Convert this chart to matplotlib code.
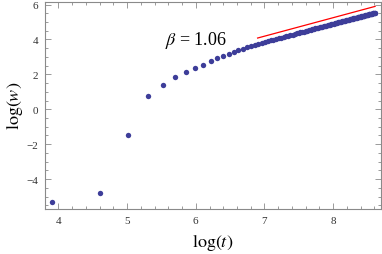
import matplotlib
matplotlib.use("Agg")
import matplotlib.pyplot as plt
import numpy as np
from matplotlib.ticker import MultipleLocator

plt.rcParams['font.family'] = ['Liberation Serif', 'DejaVu Serif']
plt.rcParams['mathtext.fontset'] = 'stix'

# t = 50, 100, ..., 5500 (step 50)
t_values = [50, 100, 150, 200, 250, 300, 350, 400, 450, 500,
            550, 600, 650, 700, 750, 800, 850, 900, 950, 1000,
            1050, 1100, 1150, 1200, 1250, 1300, 1350, 1400, 1450, 1500,
            1550, 1600, 1650, 1700, 1750, 1800, 1850, 1900, 1950, 2000,
            2050, 2100, 2150, 2200, 2250, 2300, 2350, 2400, 2450, 2500,
            2550, 2600, 2650, 2700, 2750, 2800, 2850, 2900, 2950, 3000,
            3050, 3100, 3150, 3200, 3250, 3300, 3350, 3400, 3450, 3500,
            3550, 3600, 3650, 3700, 3750, 3800, 3850, 3900, 3950, 4000,
            4050, 4100, 4150, 4200, 4250, 4300, 4350, 4400, 4450, 4500,
            4550, 4600, 4650, 4700, 4750, 4800, 4850, 4900, 4950, 5000,
            5050, 5100, 5150, 5200, 5250, 5300, 5350, 5400, 5450, 5500]

# log(w)
logw_values = [-5.34, -4.77, -1.46, 0.78, 1.40, 1.87, 2.16, 2.39, 2.56, 2.78,
               2.93, 3.06, 3.18, 3.29, 3.38, 3.47, 3.55, 3.62, 3.69, 3.75,
               3.80, 3.85, 3.90, 3.94, 3.99, 4.03, 4.07, 4.11, 4.14, 4.18,
               4.21, 4.25, 4.28, 4.31, 4.34, 4.37, 4.40, 4.43, 4.45, 4.48,
               4.51, 4.53, 4.56, 4.58, 4.60, 4.63, 4.65, 4.67, 4.69, 4.71,
               4.73, 4.75, 4.77, 4.79, 4.81, 4.83, 4.85, 4.87, 4.89, 4.90,
               4.92, 4.94, 4.95, 4.97, 4.99, 5.00, 5.02, 5.03, 5.05, 5.06,
               5.08, 5.09, 5.11, 5.12, 5.13, 5.15, 5.16, 5.17, 5.19, 5.20,
               5.21, 5.23, 5.24, 5.25, 5.26, 5.28, 5.29, 5.30, 5.31, 5.32,
               5.33, 5.35, 5.36, 5.37, 5.38, 5.39, 5.40, 5.41, 5.42, 5.43,
               5.44, 5.45, 5.46, 5.47, 5.48, 5.49, 5.50, 5.51, 5.52, 5.53]

# fitted power-law slope, drawn offset above the data
beta = 1.06
fit_x = [6.90, 8.61]
fit_y0 = 4.08

x = np.log(t_values)
y = np.array(logw_values)

fig = plt.figure(figsize=(3.82, 2.55), dpi=100)
ax = fig.add_axes([0.118, 0.176, 0.879, 0.814])

ax.scatter(x, y, s=15, color='#3d3d99', linewidths=0, zorder=3)
fx = np.array(fit_x)
ax.plot(fx, fit_y0 + beta * (fx - fit_x[0]), color='red', lw=0.9, zorder=2)

ax.text(5.55, 4.0, r'$\beta$ = %.2f' % beta, fontsize=13, va='center', ha='left')

ax.set_xlim(3.806, 8.694)
ax.set_ylim(-5.72, 6.17)
ax.xaxis.set_major_locator(MultipleLocator(1))
ax.xaxis.set_minor_locator(MultipleLocator(0.2))
ax.yaxis.set_major_locator(MultipleLocator(2))
ax.yaxis.set_minor_locator(MultipleLocator(0.5))

for s in ax.spines.values():
    s.set_color('#8a8a8a')
    s.set_linewidth(0.8)
ax.tick_params(which='both', direction='in', top=True, right=True,
               color='#8a8a8a', labelsize=8, labelcolor='#333333', width=0.6)
ax.tick_params(which='major', length=4, pad=5)
ax.tick_params(which='minor', length=2)

ax.set_xlabel(r'$\mathrm{log}(t)$', fontsize=13, labelpad=5)
ax.set_ylabel(r'$\mathrm{log}(w)$', fontsize=13, labelpad=1)

fig.savefig('out.png', dpi=100)
